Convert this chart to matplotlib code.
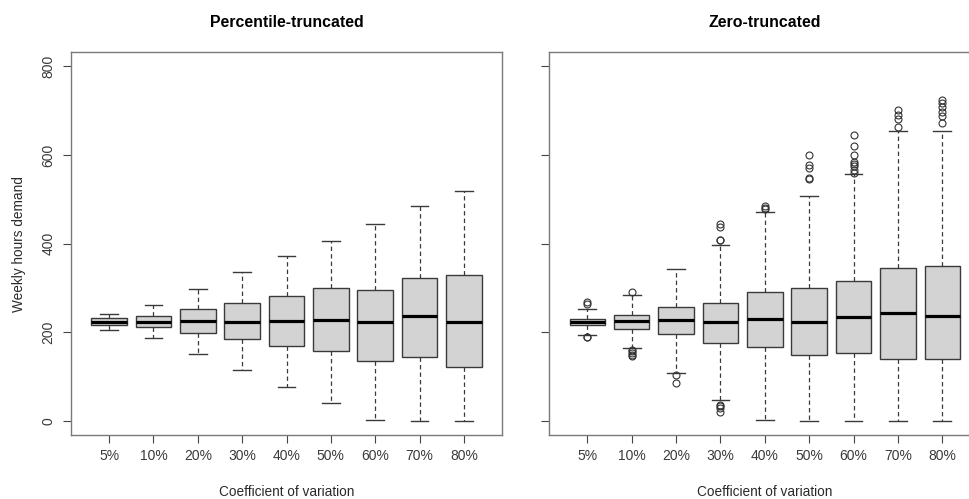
import matplotlib
matplotlib.use("Agg")
import matplotlib.pyplot as plt

plt.rcParams['font.family'] = ['Liberation Sans', 'DejaVu Sans']

cv_labels = ['5%', '10%', '20%', '30%', '40%', '50%', '60%', '70%', '80%']

# Percentile-truncated summary statistics
pt_whislo = [206, 187.5, 151.5, 115, 78, 40, 3, 0, 0]
pt_q1 = [217, 211.5, 199, 184.5, 170, 158, 136.5, 145, 122]
pt_med = [224.5, 224.5, 226, 223, 226.5, 229, 223, 236.5, 223]
pt_q3 = [232, 236.5, 252, 266.5, 281, 299, 296, 323.5, 330]
pt_whishi = [242.5, 261, 298, 336, 372, 407, 444, 484, 519]

# Zero-truncated summary statistics
zt_whislo = [195, 165, 109.5, 47, 2, 1, 1, 0, 0]
zt_q1 = [216, 208.5, 197, 175.5, 166.5, 149, 153, 141, 139]
zt_med = [224, 225, 227, 223.5, 230, 223.5, 235, 244, 237]
zt_q3 = [231, 239, 258, 266, 291, 301, 315, 345, 349.5]
zt_whishi = [253.5, 285, 342, 397, 472, 507, 556.5, 654.5, 654.5]
zt_fliers = [
    [269, 265, 189, 190],
    [291, 161, 157, 153, 149, 146],
    [104, 86],
    [408, 409, 438, 444, 37, 33, 29, 20],
    [484.5, 481, 477],
    [600, 578, 571, 547, 545],
    [645, 621, 600, 584, 580, 576, 565, 560],
    [701, 690, 680, 663.5],
    [724, 716, 707, 697, 688, 672.5],
]


def make_stats(whislo, q1, med, q3, whishi, fliers=None):
    stats = []
    for i in range(len(med)):
        stats.append({
            'whislo': whislo[i], 'q1': q1[i], 'med': med[i],
            'q3': q3[i], 'whishi': whishi[i],
            'fliers': fliers[i] if fliers else [],
        })
    return stats


def draw_panel(ax, stats, title, show_ylabels):
    ax.bxp(stats, positions=range(1, 10), widths=0.8, capwidths=0.4,
           patch_artist=True, showfliers=True,
           boxprops=dict(facecolor='#d3d3d3', edgecolor='#3a3a3a', linewidth=1.0),
           medianprops=dict(color='black', linewidth=2.3, solid_capstyle='butt'),
           whiskerprops=dict(color='#3a3a3a', linewidth=0.9, linestyle=(0, (3.5, 2.5))),
           capprops=dict(color='#3a3a3a', linewidth=1.0),
           flierprops=dict(marker='o', markersize=5, markerfacecolor='none',
                           markeredgecolor='#333333', markeredgewidth=0.8))
    ax.set_xlim(0.14, 9.86)
    ax.set_ylim(-32, 832)
    ax.set_xticks(range(1, 10))
    ax.set_xticklabels(cv_labels)
    ax.set_yticks([0, 200, 400, 600, 800])
    if show_ylabels:
        ax.set_yticklabels(['0', '200', '400', '600', '800'], rotation=90, va='center')
    else:
        ax.set_yticklabels([])
    for sp in ax.spines.values():
        sp.set_color('#7a7a7a')
        sp.set_linewidth(1.0)
    ax.tick_params(axis='both', length=6, width=0.8, color='#444444',
                   labelsize=10, labelcolor='#3a3a3a')
    ax.tick_params(axis='x', pad=4)
    ax.tick_params(axis='y', pad=5)
    ax.set_title(title, fontsize=11.4, fontweight='bold', pad=18)
    ax.set_xlabel('Coefficient of variation', fontsize=9.8, color='#2a2a2a', labelpad=16)


fig = plt.figure(figsize=(9.7, 4.99), dpi=100)
W, H = 970, 499

ax1 = fig.add_axes([71 / W, (H - 435.3) / H, 431 / W, 383.3 / H])
ax2 = fig.add_axes([549.2 / W, (H - 435.3) / H, 431.3 / W, 383.3 / H])

draw_panel(ax1, make_stats(pt_whislo, pt_q1, pt_med, pt_q3, pt_whishi),
           'Percentile-truncated', True)
draw_panel(ax2, make_stats(zt_whislo, zt_q1, zt_med, zt_q3, zt_whishi, zt_fliers),
           'Zero-truncated', False)

ax1.set_ylabel('Weekly hours demand', fontsize=9.8, color='#2a2a2a', labelpad=11.5)

fig.savefig('out.png', dpi=100)
